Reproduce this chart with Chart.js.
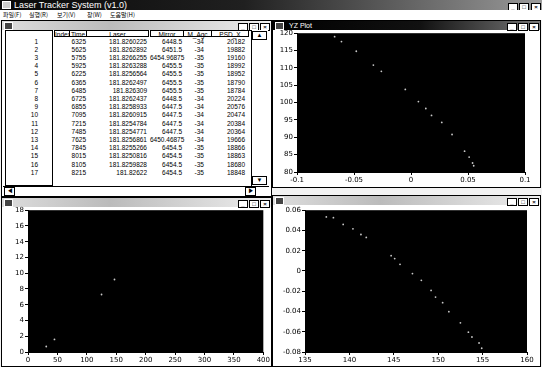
<!DOCTYPE html>
<html lang="ko">
<head>
<meta charset="UTF-8">
<title>Laser Tracker System (v1.0)</title>
<script src="https://cdn.jsdelivr.net/npm/chart.js"></script>
<style>
    body { margin: 0; width: 542px; height: 367px; position: relative; overflow: hidden; background: #f2f2f2; font-family: "Liberation Sans", Arial, sans-serif; }
    .abs { position: absolute; }
    #titulo { left: 0; top: 0; width: 542px; height: 10px; background: linear-gradient(to right, #080808 0%, #202020 45%, #9a9a9a 100%); color: #fff; font-size: 9px; line-height: 10px; }
    #titulo span { margin-left: 14px; }
    #menu { left: 0; top: 10px; width: 542px; height: 10px; background: #fff; font-family: "Noto Sans CJK KR", sans-serif; font-size: 6px; line-height: 10px; color: #000; }
    #menu span { position: absolute; top: 0; }
    .janela { border: 1px solid #000; background: #fff; box-sizing: border-box; }
    .barra { left: 0; top: 0; right: 0; height: 9px; font-size: 7px; line-height: 9px; }
    .ativa { background: linear-gradient(to right, #000 0%, #111 55%, #777 100%); color: #fff; }
    .inativa { background: linear-gradient(to right, #ddd 0%, #bbb 40%, #eee 100%); color: #444; }
    .botoes { position: absolute; right: 1px; top: 1px; height: 7px; }
    .botoes b { display: inline-block; width: 8px; height: 6px; margin-left: 1px; background: #fff; border: 1px solid #000; font-size: 6px; line-height: 6px; text-align: center; color: #000; font-weight: bold; }
    .icone { position: absolute; left: 2px; top: 1px; width: 7px; height: 6px; background: #444; border: 1px solid #fff; }
    canvas { position: absolute; }
    .cel { position: absolute; font-size: 6.5px; line-height: 8px; white-space: nowrap; color: #000; }
    .cab { position: absolute; font-size: 6.5px; line-height: 7px; height: 7px; border: 1px solid #000; box-sizing: border-box; text-align: center; background: #fff; }
</style>
</head>
<body>

<div id="titulo" class="abs"><div class="icone" style="background:#ccc"></div><span>Laser Tracker System (v1.0)</span>
    <div class="botoes"><b>_</b><b>□</b><b style="margin-left:2px">×</b></div>
</div>
<div id="menu" class="abs">
    <span style="left:3px">파일(F)</span>
    <span style="left:29px">실행(R)</span>
    <span style="left:57px">보기(V)</span>
    <span style="left:87px">창(W)</span>
    <span style="left:110px">도움말(H)</span>
</div>

<!-- janela da tabela -->
<div id="jTabela" class="abs janela" style="left:1px; top:20px; width:271px; height:177px;">
    <div class="abs barra inativa"><div class="icone"></div><div class="botoes"><b>_</b><b>□</b><b>×</b></div></div>
</div>
<div id="tabela" class="abs" style="left:0; top:0; width:542px; height:367px;"></div>

<!-- janela YZ -->
<div class="abs janela" style="left:272px; top:20px; width:269px; height:168px;">
    <div class="abs barra ativa"><div class="icone"></div><span style="margin-left:16px">YZ Plot</span><div class="botoes"><b>_</b><b>□</b><b>×</b></div></div>
</div>
<!-- janela inferior esquerda -->
<div class="abs janela" style="left:1px; top:197px; width:271px; height:170px;">
    <div class="abs barra inativa"><div class="icone"></div><div class="botoes"><b>_</b><b>□</b><b>×</b></div></div>
</div>
<!-- janela inferior direita -->
<div class="abs janela" style="left:272px; top:195px; width:269px; height:172px;">
    <div class="abs barra inativa"><div class="icone"></div><div class="botoes"><b>_</b><b>□</b><b>×</b></div></div>
</div>

<canvas id="graficoYZ" width="267" height="159" style="left:273px; top:28px;"></canvas>
<canvas id="graficoBE" width="269" height="162" style="left:2px; top:205px;"></canvas>
<canvas id="graficoBD" width="267" height="162" style="left:273px; top:205px;"></canvas>

</body>
</html>

<script>
    // dados da tabela
    const linhas = [1, 2, 3, 4, 5, 6, 7, 8, 9, 10, 11, 12, 13, 14, 15, 16, 17];
    const tempos = [6325, 5625, 5755, 5925, 6225, 6365, 6485, 6725, 6855, 7095, 7215, 7485, 7625, 7845, 8015, 8105, 8215];
    const laser = ['181.8260225', '181.8262892', '181.8266255', '181.8263288', '181.8256564', '181.8262497', '181.826309', '181.8262437', '181.8258933', '181.8260915', '181.8254784', '181.8254771', '181.8256861', '181.8255266', '181.8250816', '181.8259828', '181.82622'];
    const espelho = ['6448.5', '6451.5', '6454.96875', '6455.5', '6455.5', '6455.5', '6455.5', '6448.5', '6447.5', '6447.5', '6447.5', '6447.5', '6450.46875', '6454.5', '6454.5', '6454.5', '6454.5'];
    const agc = [-34, -34, -35, -35, -35, -35, -35, -34, -34, -34, -34, -34, -34, -35, -35, -35, -35];
    const psd = [20182, 19882, 19160, 18992, 18952, 18790, 18784, 20224, 20576, 20474, 20384, 20364, 19666, 18866, 18863, 18680, 18848];
    const cabecalhos = ['Index', 'Time', 'Laser', 'Mirror', 'M_Agc', 'PSD_X'];

    // YZ Plot
    const yzY = [-0.067, -0.061, -0.048, -0.033, -0.026, -0.005, 0.0065, 0.013, 0.018, 0.027, 0.036, 0.047, 0.051, 0.054, 0.055];
    const yzZ = [119, 117.6, 114.8, 110.8, 109, 103.8, 100.3, 98.3, 96.3, 94.3, 90.8, 86, 84.3, 82.6, 81.8];
    const yzXTicks = [-0.1, -0.05, 0, 0.05, 0.1];
    const yzXLabels = ['-0.1', '-0.05', '0', '0.05', '0.1'];
    const yzYTicks = [80, 85, 90, 95, 100, 105, 110, 115, 120];

    // grafico inferior esquerdo
    const beX = [31, 45, 125, 147];
    const beY = [0.7, 1.6, 7.3, 9.2];
    const beXTicks = [0, 50, 100, 150, 200, 250, 300, 350, 400];
    const beYTicks = [0, 2, 4, 6, 8, 10, 12, 14, 16, 18];

    // grafico inferior direito
    const bdX = [137.4, 138.2, 139.3, 140.4, 141.3, 141.9, 144.7, 145.1, 145.7, 147.1, 148.1, 149.2, 149.7, 150.5, 151.2, 152.5, 153.4, 153.8, 154.6, 154.9];
    const bdY = [0.0534, 0.0526, 0.046, 0.0416, 0.036, 0.0331, 0.0151, 0.0122, 0.0066, -0.0026, -0.0092, -0.0192, -0.0258, -0.0313, -0.0402, -0.0512, -0.0604, -0.0652, -0.0711, -0.0763];
    const bdXTicks = [135, 140, 145, 150, 155, 160];
    const bdYTicks = [-0.08, -0.06, -0.04, -0.02, 0, 0.02, 0.04, 0.06];
    const bdYLabels = ['-0.08', '-0.06', '-0.04', '-0.02', '0', '0.02', '0.04', '0.06'];

    // monta a tabela
    function montarTabela() {
        const t = document.getElementById('tabela');
        let html = '';
        const colunas = [[54, 15], [69, 17], [86, 62], [150, 33], [183, 28], [211, 37]];
        for (let c = 0; c < cabecalhos.length; c++) {
            html += `<div class="cab" style="left:${colunas[c][0]}px; top:30px; width:${colunas[c][1] + 1}px">${cabecalhos[c]}</div>`;
        }
        const alt = 8.2;
        for (let i = 0; i < linhas.length; i++) {
            const y = 37.5 + i * alt;
            html += `<div class="cel" style="left:5px; top:${y}px; width:33px; text-align:right">${linhas[i]}</div>`;
            html += `<div class="cel" style="left:${colunas[1][0]}px; top:${y}px; width:${colunas[1][1]}px; text-align:right">${tempos[i]}</div>`;
            html += `<div class="cel" style="left:${colunas[2][0]}px; top:${y}px; width:${colunas[2][1] - 1}px; text-align:right">${laser[i]}</div>`;
            html += `<div class="cel" style="left:${colunas[3][0]}px; top:${y}px; width:${colunas[3][1] - 1}px; text-align:right">${espelho[i]}</div>`;
            html += `<div class="cel" style="left:${colunas[4][0]}px; top:${y}px; width:${colunas[4][1] - 7}px; text-align:right">${agc[i]}</div>`;
            html += `<div class="cel" style="left:${colunas[5][0]}px; top:${y}px; width:${colunas[5][1] - 3}px; text-align:right">${psd[i]}</div>`;
        }
        // linhas do cabecalho de linha
        html += `<div class="abs" style="left:5px; top:30px; width:48px; height:156px; border:1px solid #000; box-sizing:border-box"></div>`;
        // barras de rolagem
        html += `<div class="abs" style="left:251px; top:30px; width:17px; height:156px; border-left:1px solid #000; box-sizing:border-box; background:#fff"></div>`;
        html += `<div class="abs" style="left:252px; top:31px; width:15px; height:9px; border:1px solid #000; box-sizing:border-box; font-size:6px; line-height:7px; text-align:center">▲</div>`;
        html += `<div class="abs" style="left:252px; top:176px; width:15px; height:9px; border:1px solid #000; box-sizing:border-box; font-size:6px; line-height:7px; text-align:center">▼</div>`;
        html += `<div class="abs" style="left:3px; top:186px; width:266px; height:10px; border-top:1px solid #000; box-sizing:border-box; background:#fff"></div>`;
        html += `<div class="abs" style="left:4px; top:187px; width:11px; height:9px; border:1px solid #000; box-sizing:border-box; font-size:6px; line-height:7px; text-align:center">◀</div>`;
        html += `<div class="abs" style="left:245px; top:187px; width:11px; height:9px; border:1px solid #000; box-sizing:border-box; font-size:6px; line-height:7px; text-align:center">▶</div>`;
        t.innerHTML = html;
    }

    // pinta a area do grafico de preto
    const fundoPreto = {
        id: 'fundoPreto',
        beforeDraw(chart) {
            const a = chart.chartArea;
            const ctx = chart.ctx;
            ctx.save();
            ctx.fillStyle = '#000';
            ctx.fillRect(a.left, a.top, a.right - a.left, a.bottom - a.top);
            ctx.restore();
        }
    };

    function plotarGrafico(id, xs, ys, xTicks, xLabels, yTicks, yLabels, pad, larguraY, alturaX) {
        const pontos = xs.map((x, i) => ({ x: x, y: ys[i] }));
        const fonte = { size: 7, family: 'DejaVu Sans' };
        const config = {
            type: 'scatter',
            data: {
                datasets: [{
                    data: pontos,
                    backgroundColor: '#c8c8c8',
                    borderWidth: 0,
                    pointRadius: 0.9
                }]
            },
            options: {
                responsive: false,
                animation: false,
                events: [],
                layout: { padding: pad },
                plugins: { legend: { display: false }, tooltip: { enabled: false } },
                scales: {
                    x: {
                        type: 'linear',
                        min: xTicks[0],
                        max: xTicks[xTicks.length - 1],
                        afterBuildTicks: s => { s.ticks = xTicks.map(v => ({ value: v })); },
                        afterFit: s => { s.height = alturaX; },
                        ticks: { callback: (v, i) => xLabels[i], color: '#000', font: fonte, maxRotation: 0, autoSkip: false, padding: 1 },
                        grid: { drawOnChartArea: false, color: '#000', tickLength: 3 },
                        border: { color: '#000' }
                    },
                    y: {
                        type: 'linear',
                        min: yTicks[0],
                        max: yTicks[yTicks.length - 1],
                        afterBuildTicks: s => { s.ticks = yTicks.map(v => ({ value: v })); },
                        afterFit: s => { s.width = larguraY; },
                        ticks: { callback: (v, i) => yLabels[i], color: '#000', font: fonte, autoSkip: false, padding: 1 },
                        grid: { drawOnChartArea: false, color: '#000', tickLength: 3 },
                        border: { color: '#000' }
                    }
                }
            },
            plugins: [fundoPreto]
        };
        new Chart(document.getElementById(id), config);
    }

    montarTabela();
    plotarGrafico('graficoYZ', yzY, yzZ, yzXTicks, yzXLabels, yzYTicks, yzYTicks.map(String),
        { left: 0, right: 15, top: 4, bottom: 0 }, 24, 15);
    plotarGrafico('graficoBE', beX, beY, beXTicks, beXTicks.map(String), beYTicks, beYTicks.map(String),
        { left: 0, right: 7, top: 4, bottom: 0 }, 26, 15);
    plotarGrafico('graficoBD', bdX, bdY, bdXTicks, bdXTicks.map(String), bdYTicks, bdYLabels,
        { left: 0, right: 13, top: 4, bottom: 0 }, 32, 15);
</script>
